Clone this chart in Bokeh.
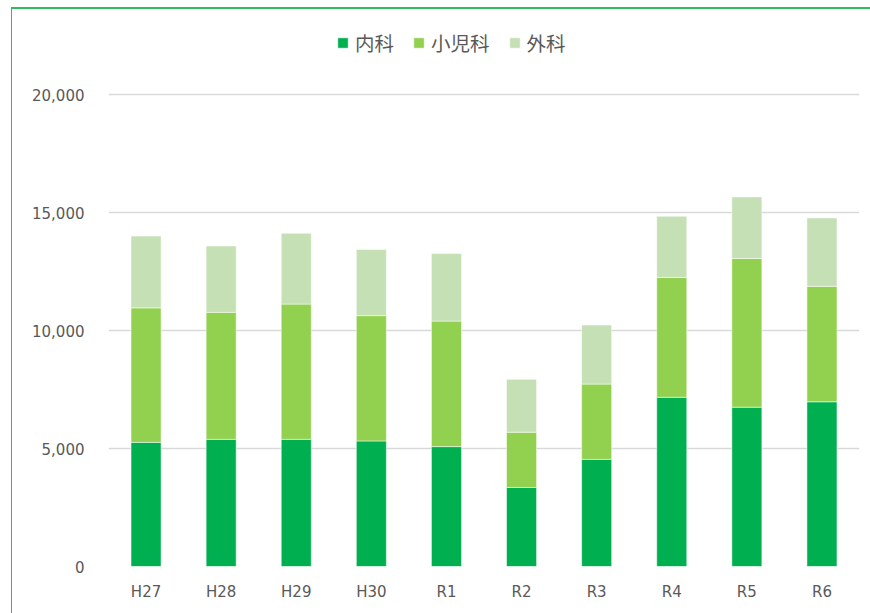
from bokeh.plotting import figure
from bokeh.models import (FactorRange, Range1d, FixedTicker, NumeralTickFormatter,
                          Legend, LegendItem, InlineStyleSheet)
from bokeh.embed import file_html
from bokeh.resources import INLINE

years = ["H27", "H28", "H29", "H30", "R1", "R2", "R3", "R4", "R5", "R6"]
naika = [5260, 5390, 5390, 5320, 5080, 3350, 4540, 7170, 6750, 6980]
shonika = [5700, 5380, 5730, 5310, 5320, 2340, 3190, 5080, 6300, 4890]
geka = [3040, 2810, 3000, 2800, 2860, 2240, 2500, 2590, 2610, 2900]
series = ["内科", "小児科", "外科"]
colors = ["#00B050", "#92D050", "#C5E0B4"]
y_ticks = [0, 5000, 10000, 15000, 20000]

data = {"year": years, "内科": naika, "小児科": shonika, "外科": geka}

# frame extends up to the legend row; gridlines/ticks only up to 20,000
p = figure(x_range=FactorRange(*years), y_range=Range1d(0, 23136),
           width=870, height=613, output_backend="svg", toolbar_location=None,
           min_border_left=108, min_border_right=11, min_border_top=20,
           min_border_bottom=47)
p.outline_line_color = None
p.background_fill_color = "white"
p.border_fill_color = "white"

renderers = p.vbar_stack(series, x="year", width=0.4, color=colors,
                         line_color="white", line_alpha=0.5, line_width=1,
                         source=data)

p.xgrid.grid_line_color = None
p.ygrid.grid_line_color = "#D9D9D9"
p.ygrid.grid_line_width = 1.5
p.yaxis.ticker = FixedTicker(ticks=y_ticks)
p.yaxis.formatter = NumeralTickFormatter(format="0,0")

for ax in (p.xaxis[0], p.yaxis[0]):
    ax.axis_line_color = None
    ax.major_tick_line_color = None
    ax.minor_tick_line_color = None
    ax.major_label_text_color = "#595959"
    ax.major_label_text_font = "DejaVu Sans"
    ax.major_label_text_font_size = "15px"
p.yaxis.major_label_standoff = 18
p.xaxis.major_label_standoff = 10

legend = Legend(items=[LegendItem(label=s, renderers=[r]) for s, r in zip(series, renderers)],
                orientation="horizontal", location=(228, 509),
                glyph_width=13, glyph_height=13, label_standoff=6, spacing=18,
                padding=0, margin=0, border_line_color=None,
                background_fill_alpha=0,
                label_text_font="Noto Sans CJK JP", label_text_font_size="19.5px",
                label_text_color="#595959")
p.add_layout(legend, "center")

p.stylesheets = [InlineStyleSheet(css="""
:host { position: relative; }
:host::after {
  content: ""; position: absolute; left: 11px; top: 7px; right: 0; bottom: 0;
  border-top: 2px solid #2EBD5C; border-left: 1.5px solid #2EBD5C;
  pointer-events: none;
}
""")]

open("out.html", "w").write(file_html(p, INLINE))
